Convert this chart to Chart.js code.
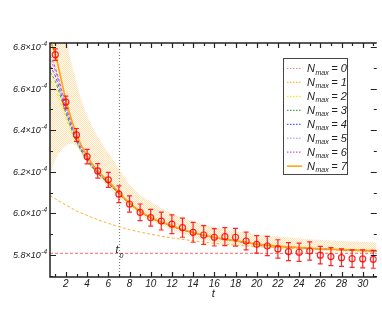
<!DOCTYPE html>
<html lang="en">
<head>
<meta charset="UTF-8">
<title>Nmax fits</title>
<script src="https://cdn.jsdelivr.net/npm/chart.js@4.4.1/dist/chart.umd.min.js"></script>
<style>
  html, body { margin: 0; padding: 0; background: #fff; }
</style>
</head>
<body>
<canvas id="myChart" width="382" height="327"></canvas>
<script>
// all y values are in units of 1e-4
const tData = [1,2,3,4,5,6,7,8,9,10,11,12,13,14,15,16,17,18,19,20,21,22,23,24,25,26,27,28,29,30,31];
const yData = [6.763,6.535,6.377,6.273,6.204,6.161,6.092,6.045,6.005,5.979,5.963,5.948,5.931,5.909,5.896,5.885,
               5.888,5.885,5.867,5.851,5.843,5.829,5.816,5.813,5.819,5.799,5.792,5.787,5.782,5.781,5.779];
const yErr  = [0.028,0.029,0.031,0.035,0.035,0.036,0.040,0.039,0.040,0.040,0.043,0.045,0.046,0.048,0.045,0.042,
               0.043,0.043,0.043,0.042,0.046,0.044,0.043,0.044,0.044,0.042,0.043,0.042,0.042,0.043,0.043];

// fit curves
const curveT = [0.5,1,2,3,4,5,6,7,8,9,10,11,12,13,14,15,16,17,18,19,20,22,24,26,28,30,31.33];
const n0Level = 5.808;
const n1 = [6.086,6.070,6.040,6.012,5.990,5.970,5.952,5.936,5.922,5.910,5.900,5.890,5.882,5.875,5.868,5.862,
            5.856,5.851,5.847,5.843,5.840,5.835,5.830,5.826,5.823,5.821,5.820];
const n2 = [6.640,6.600,6.460,6.335,6.250,6.188,6.142,6.093,6.046,6.006,5.977,5.955,5.937,5.920,5.906,5.894,
            5.883,5.874,5.866,5.859,5.850,5.841,5.834,5.828,5.824,5.820,5.818];
const n3 = [6.680,6.635,6.480,6.345,6.255,6.192,6.144,6.094,6.047,6.007,5.978,5.956,5.938,5.921,5.907,5.895,
            5.884,5.875,5.867,5.860,5.851,5.842,5.835,5.829,5.825,5.821,5.819];
const n4 = [6.710,6.660,6.495,6.352,6.260,6.195,6.146,6.095,6.048,6.008,5.979,5.957,5.939,5.921,5.907,5.895,
            5.884,5.875,5.867,5.860,5.851,5.842,5.835,5.829,5.825,5.821,5.819];
const n5 = [6.740,6.685,6.510,6.360,6.265,6.198,6.148,6.096,6.049,6.009,5.979,5.957,5.939,5.921,5.907,5.895,
            5.884,5.875,5.867,5.860,5.851,5.842,5.835,5.829,5.825,5.821,5.819];
const n6 = [6.760,6.700,6.520,6.365,6.268,6.200,6.150,6.097,6.049,6.009,5.979,5.957,5.939,5.921,5.907,5.895,
            5.884,5.875,5.867,5.860,5.851,5.842,5.835,5.829,5.825,5.821,5.819];
const n7 = [6.830,6.765,6.545,6.380,6.275,6.205,6.155,6.100,6.050,6.010,5.980,5.958,5.940,5.922,5.908,5.896,
            5.885,5.876,5.868,5.861,5.852,5.843,5.836,5.830,5.826,5.822,5.820];

// error band of the N_max = 7 fit
const bandT  = [0.5,1,1.5,2,2.5,3,3.5,4,5,6,7,8,9,10,12,14,16,18,20,22,25,28,31.33];
const bandHi = [7.30,7.10,6.95,6.84,6.73,6.63,6.54,6.47,6.37,6.29,6.215,6.14,6.09,6.056,6.00,5.962,5.935,5.915,
                5.898,5.889,5.876,5.867,5.860];
const bandLo = [6.185,6.257,6.300,6.325,6.335,6.322,6.290,6.245,6.180,6.128,6.076,6.030,5.995,5.966,5.920,5.884,
                5.862,5.849,5.840,5.832,5.823,5.815,5.810];

const t0 = 7;
const xMajor = [2,4,6,8,10,12,14,16,18,20,22,24,26,28,30];
const xMinor = [1,3,5,7,9,11,13,15,17,19,21,23,25,27,29,31];
const xTickLabels = ['2','4','6','8','10','12','14','16','18','20','22','24','26','28','30'];
const yMajor = [5.8,6.0,6.2,6.4,6.6,6.8];
const yMinor = [5.7,5.9,6.1,6.3,6.5,6.7];
const yTickLabels = ['5.8','6.0','6.2','6.4','6.6','6.8'];
const yExponent = '-4';
const nmaxLabels = ['0','1','2','3','4','5','6','7'];

const FONT = '"Liberation Sans", Arial, sans-serif';

function pts(xs, ys) {
    return xs.map(function (x, i) { return {x: x, y: ys[i]}; });
}

// fine orange mesh for the band
function hatch() {
    var c = document.createElement('canvas');
    c.width = 2; c.height = 2;
    var g = c.getContext('2d');
    g.fillStyle = 'rgba(255,220,160,0.15)';
    g.fillRect(0, 0, 2, 2);
    g.fillStyle = 'rgba(255,185,80,0.38)';
    g.fillRect(0, 0, 1, 1);
    g.fillRect(1, 1, 1, 1);
    return g.createPattern(c, 'repeat');
}
var ctxMain = document.getElementById('myChart').getContext('2d');

function curve(label, data, color, order, dash, width) {
    return {
        label: label, data: data, borderColor: color, borderWidth: width || 1,
        borderDash: dash, pointRadius: 0, fill: false, order: order,
        cubicInterpolationMode: 'monotone', clip: 0
    };
}

var curves = [
    curve('0', [{x: 0.5, y: n0Level}, {x: 31.33, y: n0Level}], 'rgba(255,90,90,0.75)', 9, [3, 2], 1.3),
    curve('1', pts(curveT, n1), 'rgba(255,175,40,0.95)', 8, [3, 2]),
    curve('2', pts(curveT, n2), 'rgba(245,235,0,0.95)', 7, [3, 2]),
    curve('3', pts(curveT, n3), 'rgba(60,160,60,0.9)', 6, [3, 2]),
    curve('4', pts(curveT, n4), 'rgba(70,70,255,0.9)', 5, [3, 2]),
    curve('5', pts(curveT, n5), 'rgba(170,120,255,0.9)', 4, [3, 2]),
    curve('6', pts(curveT, n6), 'rgba(180,70,230,0.9)', 3, [3, 2]),
    curve('7', pts(curveT, n7), '#ffa510', 2, [], 1.6)
];

var datasets = [
    {label: 'hi', data: pts(bandT, bandHi), borderWidth: 0, pointRadius: 0, fill: '+1',
     backgroundColor: hatch(), order: 11, cubicInterpolationMode: 'monotone', clip: 0},
    {label: 'lo', data: pts(bandT, bandLo), borderWidth: 0, pointRadius: 0, fill: false,
     order: 10, cubicInterpolationMode: 'monotone', clip: 0}
].concat(curves).concat([
    {label: 'data', data: pts(tData, yData), showLine: false, pointRadius: 3,
     pointBorderWidth: 1.2, pointBorderColor: 'rgba(255,0,0,0.85)',
     pointBackgroundColor: 'rgba(0,0,0,0)', order: 0, clip: 0}
]);

// vertical t0 line and its label
var t0Line = {
    id: 't0Line',
    beforeDatasetsDraw: function (chart) {
        var c = chart.ctx, a = chart.chartArea;
        var x = Math.round(chart.scales.x.getPixelForValue(t0)) + 0.5;
        c.save();
        c.strokeStyle = '#808080';
        c.lineWidth = 1.2;
        c.setLineDash([1, 2]);
        c.beginPath();
        c.moveTo(x, a.top);
        c.lineTo(x, a.bottom);
        c.stroke();
        c.restore();
    }
};

var errorBars = {
    id: 'errorBars',
    afterDatasetsDraw: function (chart) {
        var c = chart.ctx, xs = chart.scales.x, ys = chart.scales.y, a = chart.chartArea;
        c.save();
        c.beginPath();
        c.rect(a.left, a.top, a.right - a.left, a.bottom - a.top);
        c.clip();
        c.strokeStyle = 'rgba(255,0,0,0.85)';
        c.lineWidth = 1.2;
        for (var i = 0; i < tData.length; i++) {
            var x = xs.getPixelForValue(tData[i]);
            var top = ys.getPixelForValue(yData[i] + yErr[i]);
            var bot = ys.getPixelForValue(yData[i] - yErr[i]);
            c.beginPath();
            c.moveTo(x, top); c.lineTo(x, bot);
            c.moveTo(x - 2.5, top); c.lineTo(x + 2.5, top);
            c.moveTo(x - 2.5, bot); c.lineTo(x + 2.5, bot);
            c.stroke();
        }
        c.restore();
    }
};

// frame, inward ticks on all sides, tick labels, legend
var frame = {
    id: 'frame',
    afterDraw: function (chart) {
        var c = chart.ctx, xs = chart.scales.x, ys = chart.scales.y, a = chart.chartArea;
        c.save();
        c.strokeStyle = '#222';
        c.lineWidth = 1.5;
        c.beginPath();
        c.moveTo(a.right, a.top); c.lineTo(a.left, a.top);
        c.lineTo(a.left, a.bottom); c.lineTo(a.right, a.bottom);
        c.stroke();

        c.lineWidth = 1.2;
        c.beginPath();
        function xt(v, len) {
            var x = Math.round(xs.getPixelForValue(v)) + 0.5;
            c.moveTo(x, a.bottom); c.lineTo(x, a.bottom - len);
            c.moveTo(x, a.top); c.lineTo(x, a.top + len);
        }
        function yt(v, len) {
            var y = Math.round(ys.getPixelForValue(v)) + 0.5;
            c.moveTo(a.left, y); c.lineTo(a.left + len, y);
            c.moveTo(a.right, y); c.lineTo(a.right - len, y);
        }
        xMajor.forEach(function (v) { xt(v, 5); });
        xMinor.forEach(function (v) { xt(v, 3); });
        yMajor.forEach(function (v) { yt(v, 6); });
        yMinor.forEach(function (v) { yt(v, 3); });
        c.stroke();

        // x tick labels
        c.fillStyle = '#222';
        c.font = 'italic 10px ' + FONT;
        c.textAlign = 'center';
        c.textBaseline = 'middle';
        xMajor.forEach(function (v, i) {
            c.fillText(xTickLabels[i], xs.getPixelForValue(v), a.bottom + 7);
        });
        // x title
        c.font = 'italic 11px ' + FONT;
        c.fillText('t', (a.left + a.right) / 2, a.bottom + 17);

        // y tick labels: 6.8×10^-4
        yMajor.forEach(function (v, i) {
            var y = ys.getPixelForValue(v);
            c.font = 'italic 6.5px ' + FONT;
            var sw = c.measureText(yExponent).width;
            c.textAlign = 'left';
            c.textBaseline = 'alphabetic';
            c.fillText(yExponent, a.left - 3 - sw, y - 1);
            c.font = 'italic 9px ' + FONT;
            c.textAlign = 'right';
            c.textBaseline = 'middle';
            c.fillText(yTickLabels[i] + '\u00d710', a.left - 3.5 - sw, y + 0.5);
        });

        // t0 label
        var x0 = xs.getPixelForValue(t0);
        c.textBaseline = 'alphabetic';
        c.textAlign = 'left';
        c.font = 'italic 11px ' + FONT;
        c.fillText('t', x0 - 3.5, 253);
        c.font = 'italic 7px ' + FONT;
        c.fillText('0', x0 + 0.5, 257.5);

        // legend
        var bx = 283.5, by = 58.5, bw = 64, bh = 116;
        c.fillStyle = '#fff';
        c.fillRect(bx, by, bw, bh);
        c.strokeStyle = '#444';
        c.lineWidth = 1;
        c.strokeRect(bx, by, bw, bh);
        curves.forEach(function (ds, i) {
            var ly = 68 + i * 13.95;
            c.save();
            c.strokeStyle = ds.borderColor;
            c.lineWidth = i === 7 ? 1.6 : 1.2;
            c.setLineDash(i === 7 ? [] : [1.5, 1.5]);
            c.beginPath();
            c.moveTo(287, ly + 0.5); c.lineTo(302, ly + 0.5);
            c.stroke();
            c.restore();
            c.fillStyle = '#222';
            c.textAlign = 'left';
            c.textBaseline = 'alphabetic';
            c.font = 'italic 11px ' + FONT;
            c.fillText('N', 307, ly + 4);
            var nw = c.measureText('N').width;
            c.font = 'italic 7px ' + FONT;
            c.fillText('max', 307 + nw + 0.5, ly + 6.5);
            var mw = c.measureText('max').width;
            c.font = 'italic 11px ' + FONT;
            c.fillText('= ' + nmaxLabels[i], 307 + nw + mw + 3, ly + 4);
        });
        c.restore();
    }
};

new Chart(ctxMain, {
    type: 'line',
    data: {datasets: datasets},
    options: {
        responsive: false,
        animation: false,
        events: [],
        layout: {padding: {left: 50, top: 43, right: 0, bottom: 50}},
        scales: {
            x: {type: 'linear', min: 0.5, max: 31.33, display: false},
            y: {type: 'linear', min: 5.694, max: 6.819, display: false}
        },
        plugins: {legend: {display: false}, tooltip: {enabled: false}}
    },
    plugins: [t0Line, errorBars, frame]
});
</script>
</body>
</html>
